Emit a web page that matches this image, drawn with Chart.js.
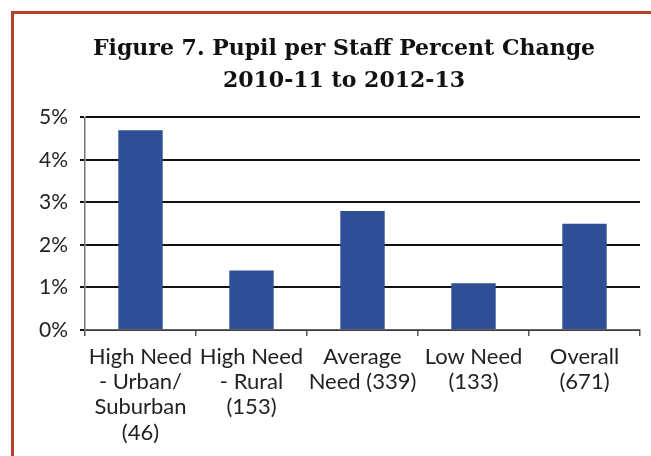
<!DOCTYPE html>
<html>
<head>
<meta charset="utf-8">
<title>Figure 7</title>
<script src="https://cdn.jsdelivr.net/npm/chart.js@4.4.1/dist/chart.umd.min.js"></script>
<style>
  html, body { margin: 0; padding: 0; background: #fff; }
  #wrap { position: relative; width: 651px; height: 456px; overflow: hidden; }
  #frame {
    position: absolute; left: 11px; top: 11px; width: 700px; height: 500px;
    border-left: 3px solid #b4432c; border-top: 3px solid #b4432c;
  }
  canvas { position: absolute; left: 0; top: 0; }
</style>
</head>
<body>
<div id="wrap">
  <div id="frame"></div>
  <canvas id="chart" width="651" height="456"></canvas>
</div>
<script>
"use strict";

let categories = [
  ['High Need', '- Urban/', 'Suburban', '(46)'],
  ['High Need', '- Rural', '(153)'],
  ['Average', 'Need (339)'],
  ['Low Need', '(133)'],
  ['Overall', '(671)']
];
let percentChange = [4.7, 1.4, 2.8, 1.1, 2.5];
let yTicks = [0, 1, 2, 3, 4, 5];
let titleLines = ['Figure 7. Pupil per Staff Percent Change', '2010-11 to 2012-13'];

let ctx = document.getElementById('chart');

// y labels hang out past the padding, so widen the label clip box after layout
let widenYLabels = {
  id: 'widenYLabels',
  afterLayout: function(chart) {
    chart.scales.y.left = 20;
  }
};

let config = {
  type: 'bar',
  data: {
    labels: categories,
    datasets: [
      {
        label: 'Percent change',
        data: percentChange,
        backgroundColor: '#2f4e96',
        barPercentage: 0.8,
        categoryPercentage: 0.5
      }
    ]
  },
  options: {
    responsive: false,
    animation: false,
    layout: {
      padding: { left: 48, right: 11, top: 0, bottom: 0 }
    },
    plugins: {
      legend: { display: false },
      tooltip: { enabled: false },
      title: {
        display: true,
        text: titleLines,
        color: '#111',
        font: { family: 'DejaVu Serif', size: 22, weight: 'bold', lineHeight: 1.42 },
        padding: { top: 34, bottom: 21 }
      }
    },
    scales: {
      x: {
        offset: true,
        grid: {
          offset: true,
          drawOnChartArea: false,
          tickLength: 6,
          color: '#555',
          lineWidth: 1.5
        },
        border: { display: true, color: '#666', width: 1.5 },
        ticks: {
          color: '#222',
          padding: 8,
          maxRotation: 0,
          autoSkip: false,
          font: { family: 'Lato', size: 22, lineHeight: 1.15 }
        },
        afterFit: function(scale) { scale.height = 126; }
      },
      y: {
        min: yTicks[0],
        max: yTicks[yTicks.length - 1],
        afterBuildTicks: function(scale) {
          scale.ticks = yTicks.map(function(v) { return { value: v }; });
        },
        grid: {
          tickLength: 5,
          color: '#111',
          lineWidth: 2
        },
        border: { display: true, color: '#777', width: 1.5 },
        ticks: {
          color: '#222',
          padding: 12,
          font: { family: 'Lato', size: 21 },
          callback: function(v) { return v + '%'; }
        },
        afterFit: function(scale) { scale.width = 37; }
      }
    }
  },
  plugins: [widenYLabels]
};

let myChart = new Chart(ctx, config);
</script>
</body>
</html>
